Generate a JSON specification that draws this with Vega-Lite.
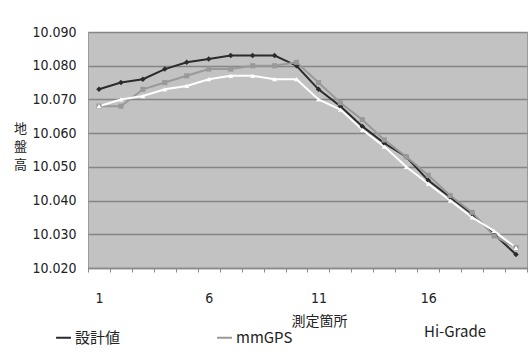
{
  "$schema": "https://vega.github.io/schema/vega-lite/v6.json",
  "width": 439,
  "height": 236,
  "autosize": {"type": "none"},
  "padding": {"left": 88, "top": 32, "right": 5, "bottom": 95},
  "background": "#ffffff",
  "config": {
    "view": {"fill": "#c2c2c2", "stroke": "#9a9a9a", "strokeWidth": 1},
    "font": "Noto Sans CJK JP"
  },
  "data": {
    "values": [
      {"p": 1, "s": "設計値", "v": 10.073},
      {"p": 2, "s": "設計値", "v": 10.075},
      {"p": 3, "s": "設計値", "v": 10.076},
      {"p": 4, "s": "設計値", "v": 10.079},
      {"p": 5, "s": "設計値", "v": 10.081},
      {"p": 6, "s": "設計値", "v": 10.082},
      {"p": 7, "s": "設計値", "v": 10.083},
      {"p": 8, "s": "設計値", "v": 10.083},
      {"p": 9, "s": "設計値", "v": 10.083},
      {"p": 10, "s": "設計値", "v": 10.080},
      {"p": 11, "s": "設計値", "v": 10.073},
      {"p": 12, "s": "設計値", "v": 10.068},
      {"p": 13, "s": "設計値", "v": 10.062},
      {"p": 14, "s": "設計値", "v": 10.057},
      {"p": 15, "s": "設計値", "v": 10.053},
      {"p": 16, "s": "設計値", "v": 10.046},
      {"p": 17, "s": "設計値", "v": 10.041},
      {"p": 18, "s": "設計値", "v": 10.036},
      {"p": 19, "s": "設計値", "v": 10.030},
      {"p": 20, "s": "設計値", "v": 10.024},
      {"p": 1, "s": "mmGPS", "v": 10.068},
      {"p": 2, "s": "mmGPS", "v": 10.068},
      {"p": 3, "s": "mmGPS", "v": 10.073},
      {"p": 4, "s": "mmGPS", "v": 10.075},
      {"p": 5, "s": "mmGPS", "v": 10.077},
      {"p": 6, "s": "mmGPS", "v": 10.079},
      {"p": 7, "s": "mmGPS", "v": 10.079},
      {"p": 8, "s": "mmGPS", "v": 10.080},
      {"p": 9, "s": "mmGPS", "v": 10.080},
      {"p": 10, "s": "mmGPS", "v": 10.081},
      {"p": 11, "s": "mmGPS", "v": 10.075},
      {"p": 12, "s": "mmGPS", "v": 10.069},
      {"p": 13, "s": "mmGPS", "v": 10.064},
      {"p": 14, "s": "mmGPS", "v": 10.058},
      {"p": 15, "s": "mmGPS", "v": 10.053},
      {"p": 16, "s": "mmGPS", "v": 10.0475},
      {"p": 17, "s": "mmGPS", "v": 10.0415},
      {"p": 18, "s": "mmGPS", "v": 10.0365},
      {"p": 19, "s": "mmGPS", "v": 10.0295},
      {"p": 20, "s": "mmGPS", "v": 10.026},
      {"p": 1, "s": "Hi-Grade", "v": 10.068},
      {"p": 2, "s": "Hi-Grade", "v": 10.070},
      {"p": 3, "s": "Hi-Grade", "v": 10.071},
      {"p": 4, "s": "Hi-Grade", "v": 10.073},
      {"p": 5, "s": "Hi-Grade", "v": 10.074},
      {"p": 6, "s": "Hi-Grade", "v": 10.076},
      {"p": 7, "s": "Hi-Grade", "v": 10.077},
      {"p": 8, "s": "Hi-Grade", "v": 10.077},
      {"p": 9, "s": "Hi-Grade", "v": 10.076},
      {"p": 10, "s": "Hi-Grade", "v": 10.076},
      {"p": 11, "s": "Hi-Grade", "v": 10.070},
      {"p": 12, "s": "Hi-Grade", "v": 10.067},
      {"p": 13, "s": "Hi-Grade", "v": 10.061},
      {"p": 14, "s": "Hi-Grade", "v": 10.056},
      {"p": 15, "s": "Hi-Grade", "v": 10.050},
      {"p": 16, "s": "Hi-Grade", "v": 10.045},
      {"p": 17, "s": "Hi-Grade", "v": 10.040},
      {"p": 18, "s": "Hi-Grade", "v": 10.035},
      {"p": 19, "s": "Hi-Grade", "v": 10.031},
      {"p": 20, "s": "Hi-Grade", "v": 10.026}
    ]
  },
  "encoding": {
    "x": {
      "field": "p",
      "type": "ordinal",
      "scale": {"type": "band", "paddingInner": 0, "paddingOuter": 0},
      "axis": {
        "title": "測定箇所",
        "titleFont": "Noto Sans CJK JP",
        "titleFontSize": 14,
        "titleFontWeight": "normal",
        "titleColor": "#222222",
        "titlePadding": 9,
        "titleX": 231,
        "labelAngle": 0,
        "labelExpr": "(datum.value - 1) % 5 == 0 ? datum.label : ''",
        "labelFont": "Liberation Sans Narrow, DejaVu Sans Condensed, Arial Narrow, sans-serif",
        "labelFontSize": 14,
        "labelColor": "#222222",
        "labelPadding": 19,
        "tickBand": "extent",
        "tickColor": "#8a8a8a",
        "tickSize": 4,
        "domainColor": "#8a8a8a",
        "domainWidth": 1.5,
        "grid": false
      }
    },
    "y": {
      "field": "v",
      "type": "quantitative",
      "scale": {"domain": [10.02, 10.09], "zero": false, "nice": false},
      "axis": {
        "values": [10.02, 10.03, 10.04, 10.05, 10.06, 10.07, 10.08, 10.09],
        "format": ",.3f",
        "title": ["地", "盤", "高"],
        "titleAngle": 0,
        "titleAlign": "center",
        "titleBaseline": "middle",
        "titleX": -68,
        "titleY": 96,
        "titleFont": "Noto Sans CJK JP",
        "titleFontSize": 13,
        "titleFontWeight": "normal",
        "titleLineHeight": 18,
        "titleColor": "#222222",
        "labelFont": "Liberation Sans Narrow, DejaVu Sans Condensed, Arial Narrow, sans-serif",
        "labelFontSize": 14,
        "labelColor": "#222222",
        "labelPadding": 12,
        "ticks": false,
        "domain": false,
        "grid": true,
        "gridColor": "#858585",
        "gridWidth": 1.5
      }
    },
    "color": {
      "field": "s",
      "type": "nominal",
      "scale": {
        "domain": ["設計値", "mmGPS", "Hi-Grade"],
        "range": ["#2b2b2b", "#999999", "#ffffff"]
      },
      "legend": {
        "title": null,
        "orient": "none",
        "direction": "horizontal",
        "columns": 3,
        "columnPadding": 92,
        "legendX": -32,
        "legendY": 292,
        "symbolType": "stroke",
        "symbolSize": 220,
        "symbolStrokeWidth": 2,
        "labelFont": "Noto Sans CJK JP",
        "labelFontSize": 15,
        "labelColor": "#222222",
        "labelOffset": 4,
        "encode": {
          "symbols": {
            "update": {
              "stroke": {"signal": "datum.value === 'Hi-Grade' ? '#cfcfcf' : scale('color', datum.value)"},
              "strokeWidth": {"signal": "datum.value === 'Hi-Grade' ? 10 : 2"}
            }
          }
        }
      }
    }
  },
  "layer": [
    {"mark": {"type": "line", "strokeWidth": 2}},
    {
      "transform": [{"filter": "datum.s === '設計値'"}],
      "mark": {"type": "point", "shape": "diamond", "filled": true, "size": 30, "opacity": 1}
    },
    {
      "transform": [{"filter": "datum.s === 'mmGPS'"}],
      "mark": {"type": "point", "shape": "square", "filled": true, "size": 26, "opacity": 1}
    },
    {
      "transform": [{"filter": "datum.s === 'Hi-Grade'"}],
      "mark": {"type": "point", "shape": "triangle-up", "filled": true, "size": 24, "opacity": 1}
    }
  ]
}
